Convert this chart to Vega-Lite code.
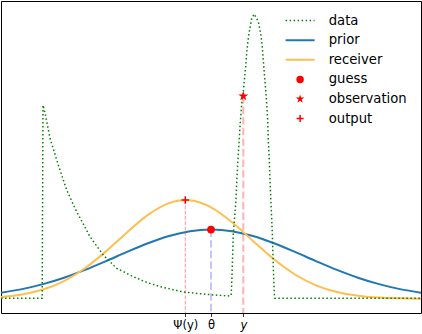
{
  "$schema": "https://vega.github.io/schema/vega-lite/v6.json",
  "width": 420,
  "height": 312,
  "autosize": {"type": "none"},
  "padding": {"left": 1, "top": 1, "right": 1, "bottom": 21},
  "background": "white",
  "config": {
    "view": {"stroke": "black", "strokeWidth": 1},
    "axis": {"grid": false, "domain": false, "labelFont": "DejaVu Sans", "labelFontSize": 11.5, "labelColor": "black", "tickColor": "black", "tickSize": 3.5, "tickWidth": 0.8, "labelPadding": 3, "title": null},
    "legend": {"labelFont": "DejaVu Sans", "labelFontSize": 13.2, "labelColor": "black"}
  },
  "datasets": {
    "curves": [
      {"series": "data", "x": -5.0, "y": 0.002},
      {"series": "data", "x": -4.02, "y": 0.002},
      {"series": "data", "x": -4.0, "y": 0.683},
      {"series": "data", "x": -3.95, "y": 0.654},
      {"series": "data", "x": -3.833, "y": 0.566},
      {"series": "data", "x": -3.636, "y": 0.472},
      {"series": "data", "x": -3.436, "y": 0.384},
      {"series": "data", "x": -3.238, "y": 0.319},
      {"series": "data", "x": -2.881, "y": 0.219},
      {"series": "data", "x": -2.564, "y": 0.154},
      {"series": "data", "x": -2.245, "y": 0.1075},
      {"series": "data", "x": -1.85, "y": 0.078},
      {"series": "data", "x": -1.531, "y": 0.058},
      {"series": "data", "x": -1.214, "y": 0.043},
      {"series": "data", "x": -0.66, "y": 0.024},
      {"series": "data", "x": -0.019, "y": 0.0145},
      {"series": "data", "x": 0.452, "y": 0.0099},
      {"series": "data", "x": 0.48, "y": 0.012},
      {"series": "data", "x": 0.493, "y": 0.055},
      {"series": "data", "x": 0.507, "y": 0.113},
      {"series": "data", "x": 0.531, "y": 0.231},
      {"series": "data", "x": 0.595, "y": 0.348},
      {"series": "data", "x": 0.612, "y": 0.407},
      {"series": "data", "x": 0.636, "y": 0.478},
      {"series": "data", "x": 0.667, "y": 0.548},
      {"series": "data", "x": 0.69, "y": 0.607},
      {"series": "data", "x": 0.731, "y": 0.689},
      {"series": "data", "x": 0.769, "y": 0.73},
      {"series": "data", "x": 0.793, "y": 0.771},
      {"series": "data", "x": 0.826, "y": 0.818},
      {"series": "data", "x": 0.85, "y": 0.866},
      {"series": "data", "x": 0.874, "y": 0.901},
      {"series": "data", "x": 0.905, "y": 0.936},
      {"series": "data", "x": 0.969, "y": 0.989},
      {"series": "data", "x": 1.031, "y": 1.004},
      {"series": "data", "x": 1.126, "y": 0.977},
      {"series": "data", "x": 1.183, "y": 0.936},
      {"series": "data", "x": 1.221, "y": 0.889},
      {"series": "data", "x": 1.245, "y": 0.842},
      {"series": "data", "x": 1.269, "y": 0.795},
      {"series": "data", "x": 1.302, "y": 0.736},
      {"series": "data", "x": 1.326, "y": 0.689},
      {"series": "data", "x": 1.35, "y": 0.63},
      {"series": "data", "x": 1.364, "y": 0.56},
      {"series": "data", "x": 1.388, "y": 0.489},
      {"series": "data", "x": 1.405, "y": 0.419},
      {"series": "data", "x": 1.429, "y": 0.337},
      {"series": "data", "x": 1.46, "y": 0.231},
      {"series": "data", "x": 1.483, "y": 0.113},
      {"series": "data", "x": 1.507, "y": 0.019},
      {"series": "data", "x": 1.52, "y": 0.002},
      {"series": "data", "x": 5.0, "y": 0.002},
      {"series": "prior", "x": -5.0, "y": 0.0216},
      {"series": "prior", "x": -4.5, "y": 0.0342},
      {"series": "prior", "x": -4.0, "y": 0.0517},
      {"series": "prior", "x": -3.5, "y": 0.0743},
      {"series": "prior", "x": -3.0, "y": 0.1019},
      {"series": "prior", "x": -2.5, "y": 0.133},
      {"series": "prior", "x": -2.0, "y": 0.1655},
      {"series": "prior", "x": -1.5, "y": 0.1961},
      {"series": "prior", "x": -1.0, "y": 0.2214},
      {"series": "prior", "x": -0.5, "y": 0.2382},
      {"series": "prior", "x": 0.0, "y": 0.244},
      {"series": "prior", "x": 0.5, "y": 0.2382},
      {"series": "prior", "x": 1.0, "y": 0.2214},
      {"series": "prior", "x": 1.5, "y": 0.1961},
      {"series": "prior", "x": 2.0, "y": 0.1655},
      {"series": "prior", "x": 2.5, "y": 0.133},
      {"series": "prior", "x": 3.0, "y": 0.1019},
      {"series": "prior", "x": 3.5, "y": 0.0743},
      {"series": "prior", "x": 4.0, "y": 0.0517},
      {"series": "prior", "x": 4.5, "y": 0.0342},
      {"series": "prior", "x": 5.0, "y": 0.0216},
      {"series": "receiver", "x": -5.0, "y": 0.0067},
      {"series": "receiver", "x": -4.5, "y": 0.0156},
      {"series": "receiver", "x": -4.0, "y": 0.0329},
      {"series": "receiver", "x": -3.5, "y": 0.0627},
      {"series": "receiver", "x": -3.0, "y": 0.1078},
      {"series": "receiver", "x": -2.5, "y": 0.1673},
      {"series": "receiver", "x": -2.0, "y": 0.2342},
      {"series": "receiver", "x": -1.5, "y": 0.296},
      {"series": "receiver", "x": -1.0, "y": 0.3374},
      {"series": "receiver", "x": -0.612, "y": 0.348},
      {"series": "receiver", "x": -0.5, "y": 0.3471},
      {"series": "receiver", "x": 0.0, "y": 0.3222},
      {"series": "receiver", "x": 0.5, "y": 0.2699},
      {"series": "receiver", "x": 1.0, "y": 0.204},
      {"series": "receiver", "x": 1.5, "y": 0.1392},
      {"series": "receiver", "x": 2.0, "y": 0.0857},
      {"series": "receiver", "x": 2.5, "y": 0.0476},
      {"series": "receiver", "x": 3.0, "y": 0.0238},
      {"series": "receiver", "x": 3.5, "y": 0.0108},
      {"series": "receiver", "x": 4.0, "y": 0.0044},
      {"series": "receiver", "x": 4.5, "y": 0.0016},
      {"series": "receiver", "x": 5.0, "y": 0.0005}
    ],
    "pts": [
      {"series": "guess", "x": 0.0, "y": 0.244},
      {"series": "observation", "x": 0.769, "y": 0.715},
      {"series": "output", "x": -0.612, "y": 0.348}
    ]
  },
  "encoding": {
    "x": {"field": "x", "type": "quantitative", "scale": {"domain": [-5, 5], "nice": false, "zero": false},
      "axis": {"values": [-0.612, 0, 0.769], "labelExpr": "datum.value == 0 ? 'θ' : (datum.value < 0 ? 'Ψ(y)' : 'y')",
        "labelFontStyle": {"condition": {"test": "datum.value > 0", "value": "italic"}, "value": "normal"}}},
    "y": {"field": "y", "type": "quantitative", "scale": {"domain": [-0.05, 1.05], "nice": false, "zero": false}, "axis": null},
    "color": {"field": "series", "type": "nominal",
      "scale": {"domain": ["data", "prior", "receiver", "guess", "observation", "output"], "range": ["#008000", "#1f77b4", "#ffbf50", "#ff0000", "#ff0000", "#ff0000"]},
      "legend": {"title": null, "orient": "none", "legendX": 292.5, "legendY": 13, "padding": 0, "symbolSize": 100, "labelOffset": 22, "rowPadding": 5.6,
        "encode": {"symbols": {"update": {
          "shape": {"signal": "datum.value == 'guess' ? 'circle' : (datum.value == 'observation' ? 'M0,-1L0.2245,-0.309L0.9511,-0.309L0.3633,0.118L0.5878,0.809L0,0.382L-0.5878,0.809L-0.3633,0.118L-0.9511,-0.309L-0.2245,-0.309Z' : (datum.value == 'output' ? 'M-1,0L1,0M0,-1L0,1' : 'stroke'))"},
          "size": {"signal": "indexof(['data','prior','receiver'], datum.value) >= 0 ? 841 : (datum.value == 'guess' ? 56 : (datum.value == 'observation' ? 81 : 49))"},
          "fill": {"signal": "datum.value == 'guess' || datum.value == 'observation' ? '#ff0000' : 'transparent'"},
          "stroke": {"scale": "color", "field": "value"},
          "strokeWidth": {"signal": "datum.value == 'data' ? 1.5 : (datum.value == 'guess' || datum.value == 'observation' ? 0 : (datum.value == 'output' ? 1.5 : 2))"},
          "strokeDash": {"signal": "datum.value == 'data' ? [1.5, 2.5] : [1, 0]"},
          "opacity": {"value": 1}
        }}}}
    }
  },
  "layer": [
    {"data": {"name": "pts"}, "transform": [{"filter": "datum.series == 'output'"}],
      "mark": {"type": "rule", "strokeWidth": 1, "strokeDash": [3.7, 1.6]},
      "encoding": {"y2": {"datum": -0.05}, "color": {"value": "#f59a9a"}}},
    {"data": {"name": "pts"}, "transform": [{"filter": "datum.series == 'guess'"}],
      "mark": {"type": "rule", "strokeWidth": 2, "strokeDash": [7.4, 3.2]},
      "encoding": {"y2": {"datum": -0.05}, "color": {"value": "#c4c4ff"}}},
    {"data": {"name": "pts"}, "transform": [{"filter": "datum.series == 'observation'"}],
      "mark": {"type": "rule", "strokeWidth": 2, "strokeDash": [7.4, 3.2]},
      "encoding": {"y2": {"datum": -0.05}, "color": {"value": "#ffb3b3"}}},
    {"data": {"name": "curves"}, "transform": [{"filter": "datum.series == 'prior'"}],
      "mark": {"type": "line", "strokeWidth": 2, "interpolate": "monotone", "clip": true}},
    {"data": {"name": "curves"}, "transform": [{"filter": "datum.series == 'receiver'"}],
      "mark": {"type": "line", "strokeWidth": 2, "interpolate": "monotone", "clip": true}},
    {"data": {"name": "curves"}, "transform": [{"filter": "datum.series == 'data'"}],
      "mark": {"type": "line", "strokeWidth": 1.5, "strokeDash": [1.5, 2.5], "clip": true}},
    {"data": {"name": "pts"}, "transform": [{"filter": "datum.series == 'guess'"}],
      "mark": {"type": "point", "shape": "circle", "filled": true, "size": 60, "opacity": 1}},
    {"data": {"name": "pts"}, "transform": [{"filter": "datum.series == 'observation'"}],
      "mark": {"type": "point", "shape": "M0,-1L0.2245,-0.309L0.9511,-0.309L0.3633,0.118L0.5878,0.809L0,0.382L-0.5878,0.809L-0.3633,0.118L-0.9511,-0.309L-0.2245,-0.309Z", "filled": true, "size": 110, "opacity": 1}},
    {"data": {"name": "pts"}, "transform": [{"filter": "datum.series == 'output'"}],
      "mark": {"type": "point", "shape": "M-1,0L1,0M0,-1L0,1", "filled": false, "size": 56, "strokeWidth": 1.5, "opacity": 1}}
  ]
}
